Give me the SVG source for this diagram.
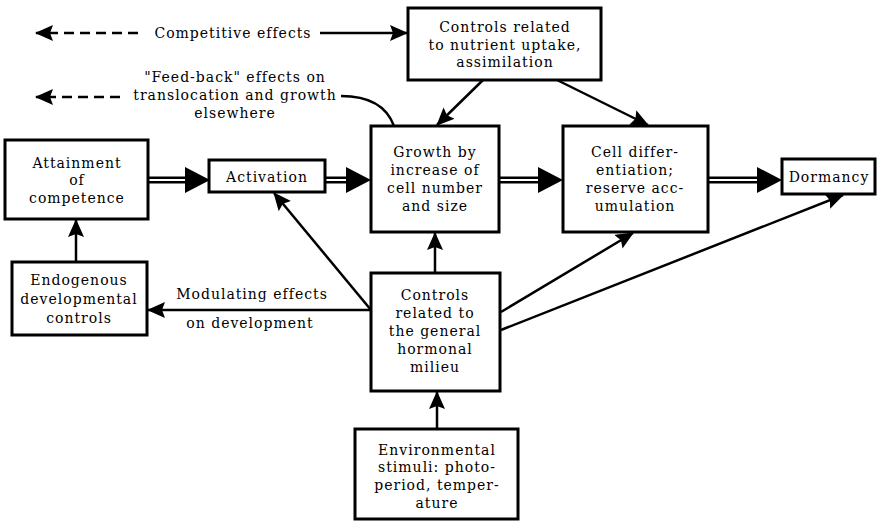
<svg xmlns="http://www.w3.org/2000/svg" xmlns:xlink="http://www.w3.org/1999/xlink" width="881" height="521" viewBox="0 0 881 521">
<style>
text{font-family:"DejaVu Serif","Liberation Serif",serif;font-size:14px;fill:#000;text-anchor:middle;letter-spacing:1px}
.box{fill:#fff;stroke:#000;stroke-width:3}
.ln{fill:none;stroke:#000;stroke-width:2.5}
.dash{fill:none;stroke:#000;stroke-width:2.5;stroke-dasharray:10,6}
.shaftO{stroke:#000;stroke-width:7}
.shaftI{stroke:#fff;stroke-width:2}
</style>
<defs>
<marker id="ah" markerUnits="userSpaceOnUse" markerWidth="18" markerHeight="16" refX="17" refY="8" orient="auto">
<path d="M0,0 L18,8 L0,16 L3,8 z" fill="#000"/>
</marker>
<path id="big" d="M0,-13 L25,0 L0,13 z" fill="#000"/>
</defs>

<g id="connectors">
<line class="dash" x1="138" y1="33" x2="36" y2="33" marker-end="url(#ah)"/>
<line class="ln" x1="320" y1="33" x2="407" y2="33" marker-end="url(#ah)"/>
<line class="dash" x1="120" y1="97" x2="36" y2="97" marker-end="url(#ah)"/>
<path class="ln" d="M341,96 Q383,96 394,126"/>
<line class="ln" x1="483" y1="80" x2="437" y2="125" marker-end="url(#ah)"/>
<line class="ln" x1="557" y1="80" x2="648" y2="125" marker-end="url(#ah)"/>
<line class="shaftO" x1="148" y1="180" x2="190" y2="180"/>
<line class="shaftI" x1="146" y1="180" x2="190" y2="180"/>
<use xlink:href="#big" x="185" y="180"/>
<line class="shaftO" x1="325" y1="180" x2="350" y2="180"/>
<line class="shaftI" x1="323" y1="180" x2="350" y2="180"/>
<use xlink:href="#big" x="346" y="180"/>
<line class="shaftO" x1="499" y1="180" x2="542" y2="180"/>
<line class="shaftI" x1="497" y1="180" x2="542" y2="180"/>
<use xlink:href="#big" x="538" y="180"/>
<line class="shaftO" x1="708" y1="180" x2="762" y2="180"/>
<line class="shaftI" x1="706" y1="180" x2="762" y2="180"/>
<use xlink:href="#big" x="757" y="180"/>
<line class="ln" x1="76" y1="262" x2="76" y2="220" marker-end="url(#ah)"/>
<line class="ln" x1="371" y1="310" x2="148" y2="310" marker-end="url(#ah)"/>
<line class="ln" x1="371" y1="310" x2="274" y2="193" marker-end="url(#ah)"/>
<line class="ln" x1="435" y1="273" x2="435" y2="233" marker-end="url(#ah)"/>
<line class="ln" x1="501" y1="312" x2="633" y2="233" marker-end="url(#ah)"/>
<line class="ln" x1="501" y1="330" x2="843" y2="195" marker-end="url(#ah)"/>
<line class="ln" x1="437" y1="429" x2="437" y2="392" marker-end="url(#ah)"/>
</g>

<g id="labels">
<text x="233" y="38">Competitive effects</text>
<text x="235" y="82">"Feed-back" effects on</text>
<text x="235" y="100">translocation and growth</text>
<text x="235" y="118">elsewhere</text>
<text x="252" y="299">Modulating effects</text>
<text x="250" y="328">on development</text>
</g>

<g id="nutrient">
<rect class="box" x="408" y="8" width="193" height="72"/>
<text x="505" y="32">Controls related</text>
<text x="505" y="50">to nutrient uptake,</text>
<text x="505" y="67">assimilation</text>
</g>

<g id="growth">
<rect class="box" x="371" y="126" width="128" height="106"/>
<text x="435" y="157">Growth by</text>
<text x="435" y="175">increase of</text>
<text x="435" y="193">cell number</text>
<text x="435" y="211">and size</text>
</g>

<g id="celldiff">
<rect class="box" x="563" y="126" width="145" height="106"/>
<text x="635" y="157">Cell differ-</text>
<text x="635" y="175">entiation;</text>
<text x="635" y="193">reserve acc-</text>
<text x="635" y="211">umulation</text>
</g>

<g id="dormancy">
<rect class="box" x="782" y="159" width="93" height="35"/>
<text x="829" y="182">Dormancy</text>
</g>

<g id="attainment">
<rect class="box" x="5" y="140" width="143" height="79"/>
<text x="77" y="168">Attainment</text>
<text x="77" y="185">of</text>
<text x="77" y="203">competence</text>
</g>

<g id="activation">
<rect class="box" x="209" y="160" width="116" height="32"/>
<text x="267" y="182">Activation</text>
</g>

<g id="endogenous">
<rect class="box" x="12" y="262" width="135" height="73"/>
<text x="79" y="285">Endogenous</text>
<text x="79" y="304">developmental</text>
<text x="79" y="323">controls</text>
</g>

<g id="hormonal">
<rect class="box" x="371" y="273" width="129" height="118"/>
<text x="435" y="300">Controls</text>
<text x="435" y="318">related to</text>
<text x="435" y="336">the general</text>
<text x="435" y="354">hormonal</text>
<text x="435" y="372">milieu</text>
</g>

<g id="environmental">
<rect class="box" x="355" y="429" width="163" height="90"/>
<text x="437" y="455">Environmental</text>
<text x="437" y="472">stimuli: photo-</text>
<text x="437" y="490">period, temper-</text>
<text x="437" y="508">ature</text>
</g>
</svg>
